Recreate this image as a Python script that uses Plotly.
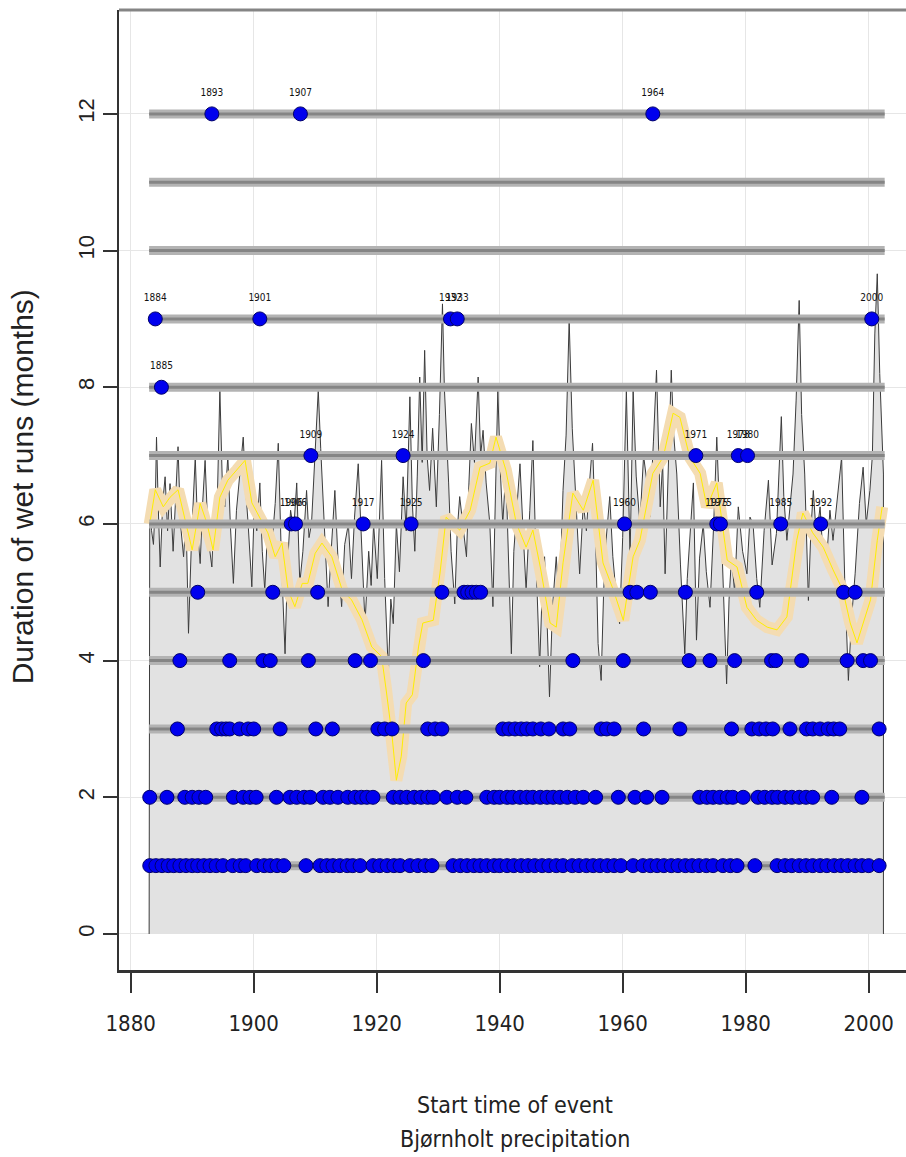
import plotly.graph_objects as go

# ---------------- data ----------------
period_start = 1883.0
period_end = 2002.6

series_years = [
    1883.0, 1883.1, 1883.4, 1883.7, 1884.0, 1884.2, 1884.5, 1884.8, 1885.2, 1885.6,
    1886.0, 1886.4, 1886.9, 1887.3, 1887.7, 1888.1, 1888.6, 1889.0, 1889.4, 1889.9,
    1890.5, 1890.9, 1891.3, 1891.7, 1892.1, 1892.6, 1893.2, 1893.6, 1894.0, 1894.5,
    1894.9, 1895.3, 1895.8, 1896.2, 1896.7, 1897.2, 1897.8, 1898.3, 1898.7, 1899.1,
    1899.7, 1900.1, 1900.5, 1901.0, 1901.4, 1901.8, 1902.3, 1902.9, 1903.5, 1904.0,
    1904.5, 1905.1, 1905.5, 1906.0, 1906.5, 1907.0, 1907.5, 1908.0, 1908.6, 1909.0,
    1909.4, 1909.9, 1910.5, 1910.9, 1911.3, 1911.7, 1912.1, 1912.6, 1913.2, 1913.7,
    1914.3, 1914.8, 1915.4, 1915.9, 1916.4, 1917.0, 1917.5, 1918.1, 1918.7, 1919.1,
    1919.5, 1920.1, 1920.8, 1921.3, 1921.9, 1922.3, 1922.7, 1923.2, 1923.7, 1924.3,
    1924.8, 1925.4, 1925.8, 1926.2, 1926.6, 1927.0, 1927.4, 1927.8, 1928.2, 1928.6,
    1929.1, 1929.7, 1930.2, 1930.7, 1931.0, 1931.3, 1931.7, 1932.1, 1932.7, 1933.1,
    1933.5, 1934.0, 1934.6, 1935.0, 1935.4, 1935.9, 1936.5, 1936.9, 1937.3, 1937.8,
    1938.4, 1938.9, 1939.3, 1939.7, 1940.1, 1940.5, 1941.0, 1941.5, 1941.9, 1942.3,
    1942.8, 1943.3, 1943.8, 1944.3, 1944.9, 1945.4, 1945.9, 1946.5, 1946.9, 1947.3,
    1947.7, 1948.1, 1948.6, 1949.2, 1949.7, 1950.3, 1950.8, 1951.3, 1951.8, 1952.2,
    1952.6, 1953.0, 1953.6, 1954.1, 1954.6, 1955.1, 1955.6, 1956.0, 1956.5, 1956.9,
    1957.3, 1957.9, 1958.4, 1959.0, 1959.5, 1960.0, 1960.6, 1961.2, 1961.7, 1962.2,
    1962.8, 1963.4, 1963.9, 1964.4, 1965.0, 1965.5, 1966.1, 1966.5, 1966.9, 1967.4,
    1967.9, 1968.3, 1968.8, 1969.4, 1970.1, 1970.5, 1970.9, 1971.5, 1972.0, 1972.5,
    1973.1, 1973.6, 1974.2, 1974.8, 1975.3, 1975.7, 1976.1, 1976.5, 1976.9, 1977.3,
    1977.7, 1978.2, 1978.8, 1979.5, 1980.2, 1980.7, 1981.2, 1981.8, 1982.3, 1983.0,
    1983.7, 1984.3, 1985.0, 1985.8, 1986.2, 1986.7, 1987.2, 1987.7, 1988.2, 1988.7,
    1989.1, 1989.6, 1990.2, 1990.6, 1991.0, 1991.5, 1992.1, 1992.6, 1993.2, 1993.7,
    1994.2, 1994.9, 1995.6, 1996.1, 1996.7, 1997.2, 1997.8, 1998.5, 1999.1, 1999.6,
    2000.2, 2000.6, 2001.0, 2001.4, 2001.8, 2002.4,
]
series_values = [
    6.0, 6.25, 5.9, 5.7, 6.3, 7.27, 6.2, 5.37, 6.3, 6.69,
    5.9, 6.59, 5.6, 6.4, 7.13, 6.0, 5.52, 6.1, 4.4, 5.8,
    6.98, 5.9, 5.42, 6.3, 6.93, 5.8, 5.37, 6.3, 6.0, 7.96,
    6.6, 6.25, 7.0, 6.0, 5.13, 6.2, 6.74, 7.27, 6.5, 6.0,
    5.08, 6.3, 5.9, 6.6, 5.6, 5.03, 6.0, 5.62, 6.3, 7.18,
    5.5, 4.1, 5.4, 6.2, 5.9, 6.6, 5.13, 5.6, 6.49, 5.8,
    6.0, 7.0, 7.96, 7.1, 6.4, 5.6, 4.79, 5.6, 6.49, 5.5,
    4.79, 5.7, 6.0, 5.2, 6.1, 6.88, 5.8, 4.54, 5.6, 5.1,
    6.0, 5.2, 6.93, 5.2, 3.81, 4.9, 4.54, 6.0, 5.3, 6.69,
    5.9, 7.86, 6.3, 5.6, 6.7, 8.15, 6.9, 8.54, 7.0, 6.49,
    7.4, 6.25, 7.6, 9.22, 8.0, 7.47, 6.6, 5.6, 4.83, 5.9,
    6.4, 6.0, 5.52, 6.6, 7.47, 6.9, 8.15, 7.0, 7.37, 6.6,
    6.0, 4.79, 6.5, 7.96, 6.8, 6.0, 6.8, 5.3, 4.1, 5.6,
    6.2, 6.88, 5.9, 5.03, 6.2, 7.22, 5.5, 3.91, 5.0, 5.52,
    4.6, 3.47, 4.8, 5.52, 4.8, 6.49, 7.3, 8.98, 7.4, 6.69,
    5.9, 5.27, 6.3, 5.9, 6.6, 7.18, 5.8, 4.25, 3.71, 5.0,
    5.76, 6.4, 5.52, 4.9, 4.54, 5.8, 7.96, 5.5, 7.96, 6.7,
    6.0, 7.0, 6.64, 6.1, 7.2, 8.25, 6.25, 6.9, 5.27, 6.7,
    8.25, 7.3, 6.73, 5.4, 4.1, 5.2, 5.76, 6.6, 4.3, 5.5,
    6.0, 5.3, 4.78, 6.0, 7.27, 6.3, 5.76, 4.8, 3.66, 4.9,
    5.52, 5.0, 6.25, 5.6, 5.27, 6.1, 6.0, 5.2, 4.78, 5.9,
    6.64, 5.4, 5.86, 7.57, 6.4, 5.76, 6.3, 6.73, 7.8, 9.27,
    7.6, 6.73, 4.88, 5.9, 6.49, 5.8, 6.25, 5.5, 5.52, 6.2,
    5.76, 6.4, 6.98, 5.2, 3.71, 4.6, 5.27, 6.3, 6.83, 6.0,
    6.49, 7.0, 8.78, 9.66, 8.2, 6.73,
]

smooth_years = [
    1883.1, 1884.0, 1885.3, 1886.4, 1887.7, 1888.8, 1890.0, 1891.3, 1892.4, 1893.4,
    1894.5, 1895.8, 1897.3, 1898.6, 1899.7, 1901.0, 1902.3, 1903.5, 1904.6, 1905.6,
    1906.7, 1907.9, 1908.8, 1910.0, 1911.1, 1912.7, 1914.4, 1915.9, 1917.6, 1919.2,
    1920.8, 1921.5, 1922.5, 1923.2, 1924.0, 1924.8, 1925.8, 1926.8, 1927.5, 1929.2,
    1930.3, 1931.3, 1933.5, 1935.2, 1936.8, 1938.4, 1939.4, 1941.0, 1942.7, 1944.3,
    1945.4, 1946.6, 1948.2, 1949.2, 1950.3, 1951.9, 1953.6, 1955.2, 1956.8, 1958.5,
    1960.1, 1961.7, 1962.8, 1964.9, 1966.6, 1968.2, 1969.3, 1970.9, 1972.6, 1973.7,
    1975.3, 1977.0, 1978.6, 1980.2, 1981.8, 1983.5, 1985.1, 1986.7, 1988.3, 1989.3,
    1990.9, 1992.6, 1994.2, 1995.8, 1997.0, 1998.1, 1999.1, 2000.3, 2001.4, 2002.2,
]
smooth_values = [
    6.0, 6.5, 6.25, 6.39, 6.5, 6.10, 5.62, 6.30, 6.01, 5.62,
    6.39, 6.64, 6.79, 6.93, 6.31, 6.10, 5.87, 5.52, 5.72, 5.03,
    4.79, 5.13, 5.13, 5.57, 5.72, 5.52, 5.03, 4.89, 4.60, 4.20,
    4.06, 3.6, 2.9, 2.25, 2.6, 3.38, 3.5, 4.2, 4.55, 4.59,
    5.28, 6.10, 5.91, 6.20, 6.83, 6.89, 7.27, 6.79, 6.01, 5.66,
    5.91, 5.37, 4.55, 4.49, 5.43, 6.45, 6.20, 6.64, 5.43, 5.03,
    4.59, 5.52, 5.76, 6.74, 6.98, 7.62, 7.56, 6.98, 6.74, 6.25,
    6.60, 5.47, 5.37, 4.78, 4.59, 4.49, 4.45, 4.64, 5.76, 6.16,
    5.87, 5.66, 5.33, 5.03, 4.55, 4.26, 4.55, 4.89, 5.76, 6.25,
]

# start times of wet runs, one list per duration (months)
runs_1 = [
    1883.1, 1884.1, 1885.1, 1886.1, 1887.0, 1888.0, 1889.0, 1890.0, 1890.9, 1891.9,
    1892.9, 1893.9, 1895.0, 1896.6, 1897.8, 1898.7, 1900.5, 1901.7, 1902.7, 1903.8,
    1904.9, 1908.5, 1910.8, 1911.9, 1912.9, 1914.0, 1915.2, 1916.1, 1917.3, 1919.4,
    1920.5, 1921.7, 1922.8, 1923.8, 1925.4, 1926.7, 1927.9, 1929.0, 1932.4, 1933.6,
    1934.7, 1935.8, 1936.8, 1937.9, 1939.1, 1940.0, 1941.2, 1942.3, 1943.5, 1944.6,
    1945.7, 1946.9, 1948.0, 1949.2, 1950.3, 1951.8, 1952.9, 1954.1, 1955.2, 1956.3,
    1957.5, 1958.6, 1959.7, 1961.7, 1963.3, 1964.5, 1965.6, 1966.7, 1967.9, 1969.0,
    1970.2, 1971.3, 1972.4, 1973.6, 1974.7, 1976.3, 1977.5, 1978.6, 1981.5, 1985.1,
    1986.4, 1987.5, 1988.7, 1989.8, 1990.9, 1992.1, 1993.2, 1994.4, 1995.5, 1996.6,
    1997.8, 1998.9, 2000.0, 2001.7,
]
runs_2 = [
    1883.1, 1885.9, 1888.8, 1890.0, 1891.1, 1892.2, 1896.7, 1898.3, 1899.4, 1900.4,
    1903.7, 1905.9, 1907.0, 1908.2, 1909.2, 1911.3, 1912.4, 1913.7, 1915.3, 1916.5,
    1917.5, 1918.4, 1919.4, 1922.7, 1923.8, 1924.9, 1926.1, 1927.2, 1928.3, 1929.2,
    1931.4, 1933.1, 1934.5, 1937.9, 1939.1, 1940.0, 1941.2, 1942.1, 1943.3, 1944.4,
    1945.4, 1946.6, 1947.7, 1948.7, 1949.8, 1951.0, 1952.3, 1953.6, 1955.6, 1959.3,
    1962.0, 1963.9, 1966.4, 1972.5, 1973.7, 1974.7, 1975.8, 1977.0, 1977.9, 1979.6,
    1982.0, 1983.1, 1984.3, 1985.2, 1986.4, 1987.5, 1988.7, 1989.8, 1990.9, 1994.0,
    1998.9,
]
runs_3 = [
    1887.6, 1894.0, 1894.8, 1895.5, 1896.1, 1897.7, 1899.1, 1900.0, 1904.3, 1910.1,
    1912.8, 1920.2, 1921.3, 1922.5, 1928.3, 1929.5, 1930.6, 1940.5, 1941.5, 1942.5,
    1943.5, 1944.4, 1945.4, 1946.7, 1948.0, 1950.3, 1951.4, 1956.5, 1957.4, 1958.6,
    1963.4, 1969.3, 1977.7, 1981.0, 1982.2, 1983.3, 1984.4, 1987.2, 1989.9, 1990.9,
    1992.1, 1993.4, 1994.3, 1995.3, 2001.7,
]
runs_4 = [
    1888.0, 1896.1, 1901.5, 1902.7, 1908.9, 1916.5, 1919.0, 1927.6, 1951.9, 1960.1,
    1970.8, 1974.2, 1978.2, 1984.2, 1984.9, 1989.1, 1996.5, 1999.1, 2000.3,
]
runs_5 = [
    1890.9, 1903.1, 1910.4, 1930.6, 1934.2, 1934.8, 1935.5, 1936.2, 1936.9, 1961.2,
    1962.3, 1964.5, 1970.2, 1981.8, 1995.9, 1997.8,
]
runs_6 = [1906.1, 1906.8, 1917.8, 1925.6, 1960.3, 1975.3, 1975.9, 1985.7, 1992.2]
runs_7 = [1909.3, 1924.3, 1971.9, 1978.8, 1980.3]
runs_8 = [1885.0]
runs_9 = [1884.0, 1901.0, 1932.0, 1933.1, 2000.5]
runs_10 = []
runs_11 = []
runs_12 = [1893.2, 1907.6, 1964.9]

durations = list(range(1, 13))
label_min_duration = 6

# ---------------- figure ----------------
all_runs = [runs_1, runs_2, runs_3, runs_4, runs_5, runs_6,
            runs_7, runs_8, runs_9, runs_10, runs_11, runs_12]

fig = go.Figure()

# filled series
fig.add_trace(go.Scatter(
    x=[series_years[0]] + series_years + [series_years[-1]],
    y=[0] + series_values + [0],
    mode="lines", fill="toself", fillcolor="#e2e2e2",
    line=dict(color="#3c3c3c", width=1), hoverinfo="skip", showlegend=False))

# smoothed curve
fig.add_trace(go.Scatter(x=smooth_years, y=smooth_values, mode="lines",
                         line=dict(color="#f4dcb2", width=12),
                         hoverinfo="skip", showlegend=False))
fig.add_trace(go.Scatter(x=smooth_years, y=smooth_values, mode="lines",
                         line=dict(color="#ffee00", width=1),
                         hoverinfo="skip", showlegend=False))

# horizontal level bars
lx, ly = [], []
for d in durations:
    lx += [period_start, period_end, None]
    ly += [d, d, None]
fig.add_trace(go.Scatter(x=lx, y=ly, mode="lines",
                         line=dict(color="#b3b3b3", width=9),
                         hoverinfo="skip", showlegend=False))
fig.add_trace(go.Scatter(x=lx, y=ly, mode="lines",
                         line=dict(color="#858585", width=3),
                         hoverinfo="skip", showlegend=False))

# event dots
ex, ey = [], []
tx, ty, tt = [], [], []
for d, runs in zip(durations, all_runs):
    for yr in runs:
        ex.append(yr)
        ey.append(d)
        if d >= label_min_duration:
            tx.append(yr)
            ty.append(d + 0.3)
            tt.append(str(int(yr)))
fig.add_trace(go.Scatter(x=ex, y=ey, mode="markers",
                         marker=dict(size=14, color="#0000ee",
                                     line=dict(color="#00006a", width=1)),
                         hoverinfo="skip", showlegend=False))

narrow = "DejaVu Sans Condensed, Liberation Sans Narrow, Liberation Sans, sans-serif"
fig.add_trace(go.Scatter(x=tx, y=ty, mode="text", text=tt,
                         textfont=dict(family=narrow, size=10, color="#111111"),
                         hoverinfo="skip", showlegend=False))

fig.update_layout(
    width=906, height=1157,
    margin=dict(l=119, r=0, t=10, b=187),
    plot_bgcolor="white", paper_bgcolor="white",
    xaxis=dict(range=[1878.1, 2006.07], tickvals=list(range(1880, 2001, 20)),
               ticks="outside", ticklen=20, tickwidth=1.5, tickcolor="#333333",
               showline=True, linecolor="#333333", linewidth=3,
               showgrid=True, gridcolor="#e6e6e6", gridwidth=1, zeroline=False,
               tickfont=dict(family=narrow, size=22, color="#222222"),
               ticklabelstandoff=12),
    yaxis=dict(range=[-0.527, 13.52], tickvals=list(range(0, 13, 2)),
               ticks="outside", ticklen=14, tickwidth=2, tickcolor="#333333",
               showline=True, linecolor="#333333", linewidth=2,
               showgrid=True, gridcolor="#e6e6e6", gridwidth=1, zeroline=False,
               tickangle=-90,
               tickfont=dict(family="Liberation Sans, Arial, sans-serif", size=22,
                             color="#222222")),
    shapes=[dict(type="line", xref="paper", yref="paper", x0=0, x1=1, y0=1, y1=1,
                 line=dict(color="#858585", width=3))],
    annotations=[
        dict(text="Duration of wet runs (months)", xref="paper", yref="paper",
             x=-0.123, y=0.503, xanchor="center", yanchor="middle", textangle=-90,
             showarrow=False,
             font=dict(family="Liberation Sans, Arial, sans-serif", size=30,
                       color="#222222")),
        dict(text="Start time of event", xref="paper", yref="paper",
             x=0.503, y=-0.141, xanchor="center", yanchor="middle", showarrow=False,
             font=dict(family=narrow, size=23, color="#222222")),
        dict(text="Bjørnholt precipitation", xref="paper", yref="paper",
             x=0.503, y=-0.176, xanchor="center", yanchor="middle", showarrow=False,
             font=dict(family=narrow, size=23, color="#222222")),
    ],
)

fig.write_html("out.html")
